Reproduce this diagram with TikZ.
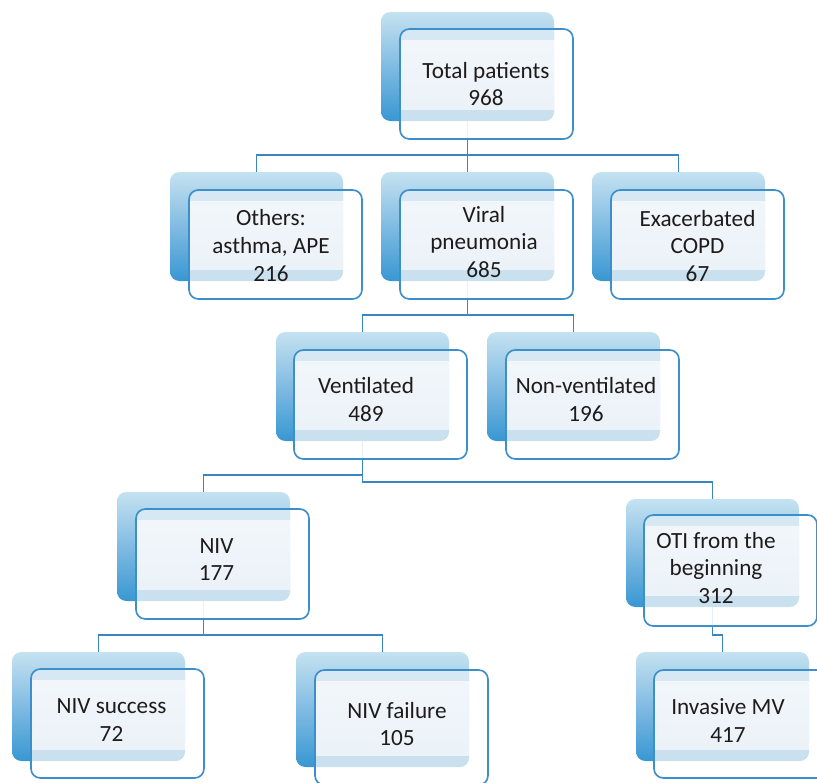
\documentclass[tikz,border=0pt]{standalone}
\usepackage{fontspec}
\setmainfont{Carlito}
\usetikzlibrary{calc}
\pgfdeclarelayer{bg}
\pgfsetlayers{bg,main}
\definecolor{conn}{HTML}{3A86C3}
\definecolor{fline}{HTML}{3D8FCB}
\definecolor{backtop}{HTML}{C5E2F1}
\definecolor{backmid}{HTML}{80BBE2}
\definecolor{backbot}{HTML}{3897D2}
\definecolor{midtop}{HTML}{F3F7FB}
\definecolor{midbot}{HTML}{E8F0F7}
\definecolor{bandtop}{HTML}{D6E8F3}
\definecolor{bandbot}{HTML}{C9E0EE}
\definecolor{txtcol}{HTML}{1E1B1C}
\tikzset{
  backbox/.style={rectangle, rounded corners=7pt, inner sep=0pt, outer sep=0pt,
    minimum width=129.75pt, top color=backtop, bottom color=backbot, middle color=backmid, draw=none},
  frontfill/.style={rectangle, rounded corners=7pt, inner sep=0pt, outer sep=0pt,
    minimum width=129.75pt, fill=white, fill opacity=0.88, draw=none},
  frontline/.style={draw=fline, line width=1.25pt, rounded corners=7pt},
  boxtext/.style={align=center, text=txtcol, inner sep=0pt, font={\fontsize{17.4pt}{20.8pt}\selectfont}},
  connector/.style={draw=conn, line width=1.15pt}
}
\newcommand\mkbox[9]{%
  \node[backbox, minimum height={#4*0.75pt}] (#1b) at ({#2+86.5},{#3+#4/2}) {};
  \node[frontfill, minimum height={#7*0.75pt}] (#1f) at ({#5+86.5},{#6+#7/2}) {};
  \begin{scope}
    \clip[rounded corners=7pt] (#2,#3) rectangle ++(173,#4);
    \clip[rounded corners=7pt] (#5,#6) rectangle ++(173,#7);
    \shade[top color=midtop, bottom color=midbot] (#5,#6) rectangle ++(173,#7);
    \fill[bandtop] (#5,#6) rectangle ++(173,11);
    \fill[bandbot] (#5,{#3+#4-11}) rectangle ++(173,11);
  \end{scope}
  \draw[frontline] (#1f.north west) rectangle (#1f.south east);
  \node[boxtext] (#1t) at #8 {#9};
}
\begin{document}
\begin{tikzpicture}[x=0.75pt, y=-0.75pt]
\useasboundingbox (0,0) rectangle (817,782);
\clip (0,0) rectangle (817,782);
\mkbox{tot}{381}{12}{109}{400}{29}{110}{(486,84)}{Total patients\\968}
\mkbox{oth}{170}{172}{109}{189}{190}{109}{(271,245.5)}{Others:\\asthma, APE\\216}
\mkbox{vir}{381}{172}{109}{400}{190}{109}{(484,242)}{Viral\\pneumonia\\685}
\mkbox{cop}{592}{172}{109}{611}{190}{109}{(697.5,246)}{Exacerbated\\COPD\\67}
\mkbox{ven}{276}{332}{109}{294}{350}{109}{(366,399.5)}{Ventilated\\489}
\mkbox{non}{487}{332}{109}{506}{350}{109}{(586,399.5)}{Non-ventilated\\196}
\mkbox{niv}{117}{492}{109}{136}{509}{110}{(216.5,559.5)}{NIV\\177}
\mkbox{oti}{626}{499}{108}{644}{515}{111}{(716,568)}{OTI from the\\beginning\\312}
\mkbox{suc}{12}{652}{109}{31}{669}{109}{(111.5,720)}{NIV success\\72}
\mkbox{fai}{296}{652}{115}{315}{670}{115}{(397,724)}{NIV failure\\105}
\mkbox{imv}{636}{652}{109}{654}{670}{108}{(728,720.5)}{Invasive MV\\417}
\begin{pgfonlayer}{bg}
  \draw[connector] (totb.south) -- ++(0,34) -| (othb.north);
  \draw[connector] (totb.south) -- (virb.north);
  \draw[connector] (totb.south) -- ++(0,34) -| (copb.north);
  \draw[connector] (virb.south) -- ++(0,34) -| (venb.north);
  \draw[connector] (virb.south) -- ++(0,34) -| (nonb.north);
  \draw[connector] (venb.south) -- ++(0,34) -| (nivb.north);
  \draw[connector] (venb.south) -- ++(0,41) -| (otib.north);
  \draw[connector] (nivb.south) -- ++(0,34) -| (sucb.north);
  \draw[connector] (nivb.south) -- ++(0,34) -| (faib.north);
  \draw[connector] (otib.south) -- ++(0,28) -| (imvb.north);
\end{pgfonlayer}
\end{tikzpicture}
\end{document}
